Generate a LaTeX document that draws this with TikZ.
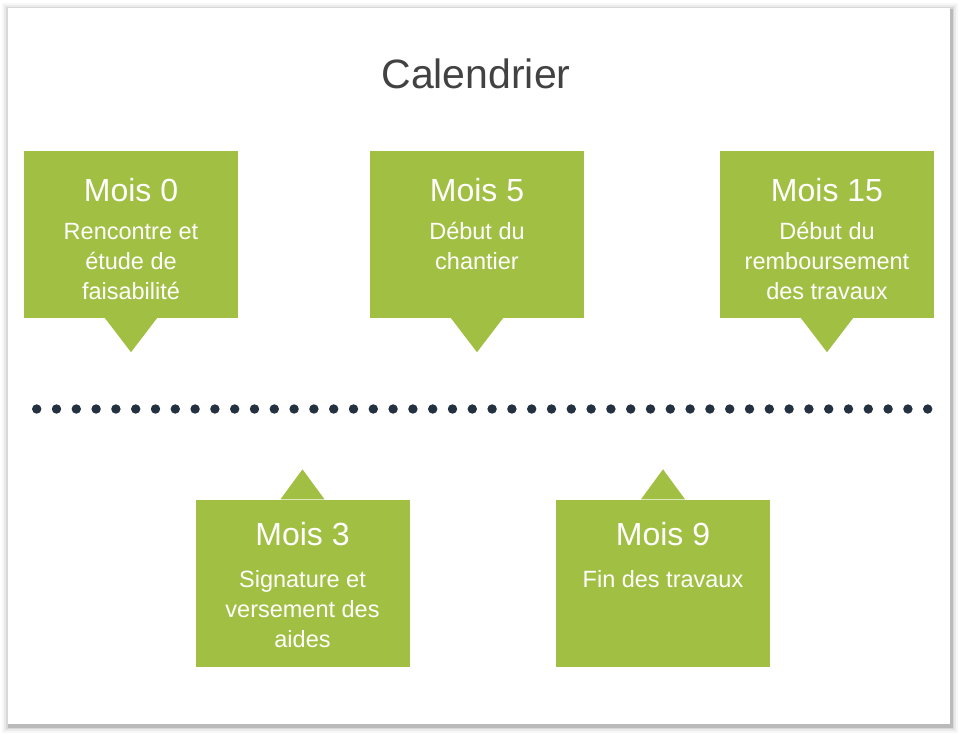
\documentclass[tikz,border=0pt]{standalone}
\usepackage{fontspec}
\setmainfont{Liberation Sans}
\usetikzlibrary{positioning}
\definecolor{leaf}{HTML}{A1C043}
\definecolor{ink}{HTML}{233140}
\definecolor{titlegray}{HTML}{424242}

\begin{document}
\begin{tikzpicture}[
    x=1pt, y=-1pt,
    box/.style={rectangle, fill=leaf, minimum width=214pt, minimum height=167pt, inner sep=0pt},
    head/.style={text=white, font=\fontsize{32}{38}\selectfont, anchor=base, inner sep=0pt},
    body/.style={text=white, font=\fontsize{23.5}{30}\selectfont, align=center, anchor=base, inner sep=0pt},
    pointer/.style={fill=leaf},
    timedot/.style={fill=ink}
]

\useasboundingbox (0,0) rectangle (960,734);

% Card with a soft shadow
\foreach \s/\o in {7/0.03, 5/0.05, 3/0.08, 1.5/0.14}
    \fill[black, opacity=\o] (8-\s+1, 8-\s+2) rectangle (950+\s+1, 724+\s+2);
\fill[white] (8,8) rectangle (950,724);

% Title
\node[font=\fontsize{41}{48}\selectfont, text=titlegray, anchor=base] (title) at (476,88) {Calendrier};

% Mois 0: top-left (base anchor sits on the last line)
\node[box] (b0) at (131,234.5) {};
\fill[pointer] ([xshift=-26pt]b0.south) -- ([xshift=26pt]b0.south) -- ([yshift=-34pt]b0.south) -- cycle;
\node[head] (h0) at ([yshift=-51pt]b0.north) {Mois 0};
\node[body] (t0) at ([yshift=-149pt]b0.north) {Rencontre et\\étude de\\faisabilité};

% Mois 5: top-middle
\node[box] (b5) at (477,234.5) {};
\fill[pointer] ([xshift=-26pt]b5.south) -- ([xshift=26pt]b5.south) -- ([yshift=-34pt]b5.south) -- cycle;
\node[head] (h5) at ([yshift=-51pt]b5.north) {Mois 5};
\node[body] (t5) at ([yshift=-119pt]b5.north) {Début du\\chantier};

% Mois 15: top-right
\node[box] (b15) at (827,234.5) {};
\fill[pointer] ([xshift=-26pt]b15.south) -- ([xshift=26pt]b15.south) -- ([yshift=-34pt]b15.south) -- cycle;
\node[head] (h15) at ([yshift=-51pt]b15.north) {Mois 15};
\node[body] (t15) at ([yshift=-149pt]b15.north) {Début du\\remboursement\\des travaux};

% Timeline
\foreach \i in {0,...,45}
    \fill[timedot] (36.7+\i*19.8, 409) circle (4.7pt);

% Mois 3: bottom-left
\node[box] (b3) at (302.5,583) {};
\fill[pointer] ([xshift=-22pt]b3.north) -- ([xshift=22pt]b3.north) -- ([yshift=30pt]b3.north) -- cycle;
\node[head] (h3) at ([yshift=-46pt]b3.north) {Mois 3};
\node[body] (t3) at ([yshift=-148pt]b3.north) {Signature et\\versement des\\aides};

% Mois 9: bottom-right
\node[box] (b9) at (663,583) {};
\fill[pointer] ([xshift=-22pt]b9.north) -- ([xshift=22pt]b9.north) -- ([yshift=30pt]b9.north) -- cycle;
\node[head] (h9) at ([yshift=-46pt]b9.north) {Mois 9};
\node[body] (t9) at ([yshift=-88pt]b9.north) {Fin des travaux};

\end{tikzpicture}
\end{document}
